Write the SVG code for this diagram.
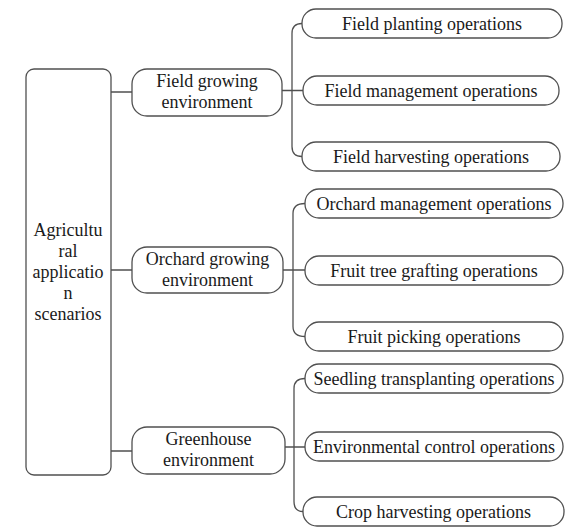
<svg xmlns="http://www.w3.org/2000/svg" width="572" height="532" viewBox="0 0 572 532" font-family="Liberation Serif, DejaVu Serif, serif" font-size="18">
<style>
.box{fill:#ffffff;stroke:#505050;stroke-width:1.3}
.ln{fill:none;stroke:#505050;stroke-width:1.3}
.t{fill:#1a1a1a;text-anchor:middle}
</style>
<rect width="572" height="532" fill="#ffffff"/>
<g id="connectors">
<path class="ln" d="M111,92 L132,92 M111,270 L132,270 M111,451 L132,451"/>
<path class="ln" d="M282,90.5 L303,90.5 M302,23.5 Q292,23.5 292,33.5 L292,146.5 Q292,156.5 302,156.5"/>
<path class="ln" d="M283,270 L305,270 M305,203.5 Q293,203.5 293,213.5 L293,326.5 Q293,336.5 305,336.5"/>
<path class="ln" d="M285,447 L305,447 M305,378.5 Q294,378.5 294,388.5 L294,501.5 Q294,511.5 303,511.5"/>
</g>
<g id="root">
<rect class="box" x="26" y="69" width="85" height="406" rx="8"/>
<text class="t" x="68" y="236">Agricultu</text>
<text class="t" x="68" y="257">ral</text>
<text class="t" x="68" y="278">applicatio</text>
<text class="t" x="68" y="299">n</text>
<text class="t" x="68" y="320">scenarios</text>
</g>
<g id="field-env">
<rect class="box" x="132" y="69" width="150" height="47" rx="15"/>
<text class="t" x="207" y="87">Field growing</text>
<text class="t" x="207" y="108">environment</text>
</g>
<g id="orchard-env">
<rect class="box" x="132" y="247" width="151" height="46" rx="15"/>
<text class="t" x="207.5" y="265">Orchard growing</text>
<text class="t" x="207.5" y="286">environment</text>
</g>
<g id="greenhouse-env">
<rect class="box" x="132" y="427" width="153" height="47" rx="15"/>
<text class="t" x="208.5" y="445">Greenhouse</text>
<text class="t" x="208.5" y="466">environment</text>
</g>
<g id="field-planting">
<rect class="box" x="302" y="9" width="260" height="29" rx="14"/>
<text class="t" x="432" y="30">Field planting operations</text>
</g>
<g id="field-management">
<rect class="box" x="303" y="76" width="256" height="29" rx="14"/>
<text class="t" x="431" y="97">Field management operations</text>
</g>
<g id="field-harvesting">
<rect class="box" x="302" y="142" width="258" height="29" rx="14"/>
<text class="t" x="431" y="163">Field harvesting operations</text>
</g>
<g id="orchard-management">
<rect class="box" x="305" y="189" width="258" height="29" rx="14"/>
<text class="t" x="434" y="210">Orchard management operations</text>
</g>
<g id="fruit-tree-grafting">
<rect class="box" x="305" y="256" width="258" height="29" rx="14"/>
<text class="t" x="434" y="277">Fruit tree grafting operations</text>
</g>
<g id="fruit-picking">
<rect class="box" x="305" y="322" width="258" height="29" rx="14"/>
<text class="t" x="434" y="343">Fruit picking operations</text>
</g>
<g id="seedling-transplanting">
<rect class="box" x="305" y="364" width="258" height="29" rx="14"/>
<text class="t" x="434" y="385">Seedling transplanting operations</text>
</g>
<g id="environmental-control">
<rect class="box" x="305" y="432" width="258" height="29" rx="14"/>
<text class="t" x="434" y="453">Environmental control operations</text>
</g>
<g id="crop-harvesting">
<rect class="box" x="303" y="497" width="261" height="29" rx="14"/>
<text class="t" x="433.5" y="518">Crop harvesting operations</text>
</g>
</svg>
